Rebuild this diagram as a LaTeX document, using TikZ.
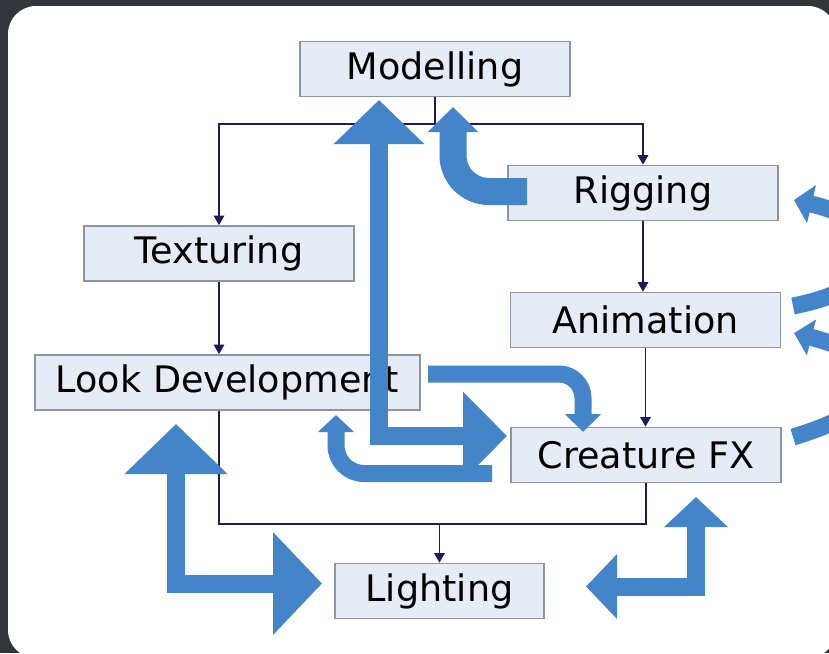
\documentclass[tikz,border=0pt]{standalone}
\usepackage{fontspec}
\setmainfont{DejaVu Sans}
\usetikzlibrary{
	arrows.meta,
	calc,
	positioning
}
\definecolor{SlateDark}{RGB}{50,53,57}
\definecolor{StageFill}{RGB}{230,236,246}
\definecolor{StageLine}{RGB}{140,150,162}
\definecolor{LinkNavy}{RGB}{30,26,92}
\definecolor{FlowBlue}{RGB}{67,133,200}

\tikzset{
	stage/.style={draw=StageLine, fill=StageFill, line width=0.4mm, minimum width=67.5mm,
		minimum height=13.75mm, inner sep=0pt, font=\fontsize{26}{30}\selectfont},
	link/.style={draw=LinkNavy, line width=0.45mm},
	fat/.style={draw=FlowBlue, line cap=butt, line join=miter}
}

\begin{document}
\begin{tikzpicture}[x=0.25mm, y=-0.25mm, >={Triangle[length=2.4mm,width=2.6mm]}]
			\useasboundingbox (0,0) rectangle (829,653);
			\clip (0,0) rectangle (829,653);
			\fill[SlateDark] (0,0) rectangle (829,653);
			\fill[white, rounded corners=7mm] (8,6) rectangle (836,658);
			% stages
			\node[stage] (model) at (435,69) {Modelling};
			\node[stage] (rig) at (643,193) {Rigging};
			\node[stage] (tex) at (219,253.5) {Texturing};
			\node[stage] (anim) at (645.5,320) {Animation};
			\node[stage, minimum width=96.25mm] (look) at (227.5,382.5) {Look Development};
			\node[stage] (cfx) at (646,455) {Creature FX};
			\node[stage, minimum width=52.25mm] (light) at (439.5,591) {Lighting};
			\coordinate (split) at (model.south |- 0,124);
			\coordinate (join) at (light.north |- 0,524);
			% pipeline links
			\draw[link] (model.south) -- (split);
			\draw[link, ->] (split) -| (tex.north);
			\draw[link, ->] (split) -| (rig.north);
			\draw[link, ->] (rig.south) -- (rig.south |- anim.north);
			\draw[link, ->] (anim.south) -- (anim.south |- cfx.north);
			\draw[link, ->] (tex.south) -- (tex.south |- look.north);
			\draw[link] (tex.south |- look.south) |- (join) -| (cfx.south);
			\draw[link, ->] (join) -- (light.north);
			% feedback arrows
			\draw[fat, line width=4.5mm, {Triangle[width=22mm,length=11mm]}-{Triangle[width=21.5mm,length=11mm]}]
				(379,100) |- (507,436);
			\draw[fat, line width=6.75mm, rounded corners=9mm, -{Triangle[width=12.25mm,length=6.25mm]}]
				(527,191.5) -| (453,107);
			\draw[fat, line width=4.25mm, rounded corners=6mm, -{Triangle[width=8.75mm,length=4.5mm]}]
				(428,374) -| (583,432);
			\draw[fat, line width=4.25mm, rounded corners=7mm, -{Triangle[width=8.75mm,length=4.25mm]}]
				(492,473.5) -| (336,415);
			\draw[fat, line width=4.5mm, {Triangle[width=25mm,length=12.5mm]}-{Triangle[width=25mm,length=12.25mm]}]
				(176,424) |- (322,583.5);
			\draw[fat, line width=4.5mm, {Triangle[width=15.5mm,length=7.5mm]}-{Triangle[width=15.75mm,length=7.75mm]}]
				(696,497) |- (586,586.5);
			\draw[fat, line width=4.25mm, -{Triangle[width=9mm,length=4.5mm]}]
				(793,437) .. controls (900,405) and (900,360) .. (794,333);
			\draw[fat, line width=4.25mm, -{Triangle[width=9.5mm,length=4.5mm]}]
				(793,306) .. controls (900,285) and (900,225) .. (794,200);
		\end{tikzpicture}
\end{document}
